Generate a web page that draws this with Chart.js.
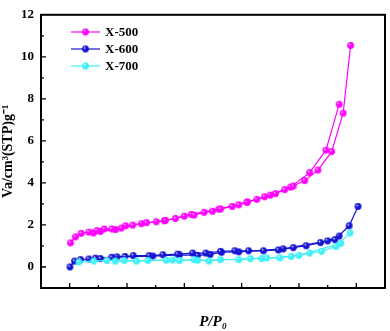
<!DOCTYPE html>
<html>
<head>
<meta charset="utf-8">
<script src="https://cdn.jsdelivr.net/npm/chart.js@4/dist/chart.umd.min.js"></script>
<style>
html,body{margin:0;padding:0;background:#fff;}
#wrap{width:390px;height:331px;position:relative;}
</style>
</head>
<body>
<div id="wrap"><canvas id="c" width="390" height="331"></canvas></div>
<script>
// ---- data (P/P0, Va) ----
const seriesLabels = ['X-500', 'X-600', 'X-700'];
const seriesColors = ['#ff00ff', '#1414d2', '#3ff0f8'];

const x500Ads = [[0.003,1.15],[0.02,1.43],[0.04,1.6],[0.067,1.66],[0.095,1.73],[0.12,1.81],[0.147,1.81],[0.18,1.85],[0.22,1.99],[0.268,2.11],[0.302,2.15],[0.334,2.22],[0.369,2.31],[0.4,2.42],[0.434,2.47],[0.469,2.6],[0.498,2.65],[0.527,2.76],[0.567,2.88],[0.59,2.96],[0.618,3.07],[0.653,3.22],[0.68,3.34],[0.718,3.49],[0.75,3.68],[0.78,3.85],[0.82,4.11],[0.866,4.61],[0.914,5.49],[0.954,7.32],[0.98,10.54]];
const x500Des = [[0.94,7.74],[0.894,5.56],[0.837,4.49],[0.77,3.8],[0.7,3.42],[0.62,3.1],[0.52,2.75],[0.425,2.5],[0.33,2.2],[0.25,2.06],[0.195,1.96],[0.16,1.78],[0.107,1.69],[0.083,1.62]];

const x600Ads = [[0.001,0.0],[0.017,0.28],[0.038,0.35],[0.067,0.38],[0.107,0.4],[0.147,0.46],[0.193,0.5],[0.222,0.54],[0.277,0.54],[0.325,0.58],[0.377,0.61],[0.429,0.66],[0.475,0.66],[0.526,0.74],[0.576,0.77],[0.624,0.77],[0.676,0.77],[0.728,0.81],[0.78,0.92],[0.825,1.01],[0.875,1.16],[0.925,1.3],[0.975,1.96],[1.006,2.88]];
const x600Des = [[0.94,1.47],[0.9,1.24],[0.745,0.86],[0.59,0.72],[0.53,0.7],[0.49,0.6],[0.446,0.55],[0.383,0.58],[0.29,0.52],[0.165,0.48],[0.09,0.42]];

const x700Ads = [[0.032,0.24],[0.084,0.28],[0.13,0.31],[0.19,0.31],[0.233,0.28],[0.273,0.31],[0.337,0.32],[0.383,0.31],[0.434,0.35],[0.486,0.28],[0.526,0.35],[0.59,0.35],[0.63,0.4],[0.687,0.43],[0.733,0.43],[0.773,0.5],[0.837,0.66],[0.879,0.74],[0.929,0.97],[0.978,1.62]];
const x700Des = [[0.946,1.12],[0.8,0.55],[0.67,0.4],[0.446,0.32],[0.359,0.33],[0.159,0.28]];

const xTickLabels = ['0.0','0.2','0.4','0.6','0.8','1.0'];
const yTickLabels = ['0','2','4','6','8','10','12'];

// ---- styles ----
function sphere(color, r) {
  const s = Math.ceil(r*2)+2;
  const cv = document.createElement('canvas');
  cv.width = s; cv.height = s;
  const g = cv.getContext('2d');
  const c = s/2;
  const grad = g.createRadialGradient(c-r*0.35, c-r*0.4, 0.2, c, c, r);
  grad.addColorStop(0, '#ffffff');
  grad.addColorStop(0.35, color);
  grad.addColorStop(1, color);
  g.fillStyle = grad;
  g.beginPath(); g.arc(c, c, r, 0, Math.PI*2); g.fill();
  return cv;
}
const toXY = arr => arr.map(p => ({x:p[0], y:p[1]}));
const allSeries = [[x500Ads,x500Des],[x600Ads,x600Des],[x700Ads,x700Des]];
const sprites = seriesColors.map(c => sphere(c, 3.4));

const datasets = [];
// draw order: X-700 first so blue/magenta sit on top
[2,1,0].forEach(i => {
  allSeries[i].forEach((arr, k) => {
    datasets.push({
      label: seriesLabels[i] + (k ? ' des' : ''),
      data: toXY(arr),
      showLine: true,
      borderColor: seriesColors[i],
      backgroundColor: seriesColors[i],
      borderWidth: 1.2,
      pointStyle: sprites[i],
      pointRadius: 3.4,
      pointHoverRadius: 3.4,
      tension: 0
    });
  });
});

const font = 'bold 13px "Liberation Serif", "Times New Roman", serif';

const framePlugin = {
  id: 'frame',
  afterDraw(chart) {
    const {ctx, chartArea: a, scales: {x, y}} = chart;
    ctx.save();
    ctx.strokeStyle = '#000';
    ctx.lineWidth = 2;
    ctx.strokeRect(a.left, a.top, a.right - a.left, a.bottom - a.top);
    ctx.lineWidth = 1.3;
    ctx.beginPath();
    for (let v = -0.1; v <= 1.1001; v += 0.1) {
      const r = Math.round(v*10);
      const len = (r % 2 === 0) ? 5 : 3;
      const px = x.getPixelForValue(r/10);
      if (px <= a.left + 1 || px >= a.right - 1) continue;
      ctx.moveTo(px, a.bottom); ctx.lineTo(px, a.bottom - len);
    }
    for (let v = -1; v <= 12; v++) {
      const len = (v % 2 === 0) ? 5 : 3;
      const py = y.getPixelForValue(v);
      if (py <= a.top + 1 || py >= a.bottom - 1) continue;
      ctx.moveTo(a.left, py); ctx.lineTo(a.left + len, py);
    }
    ctx.stroke();
    // legend
    ctx.font = font;
    ctx.textBaseline = 'middle';
    ctx.textAlign = 'left';
    const lx0 = 71, lx1 = 100, ly0 = 32, dy = 17;
    seriesLabels.forEach((lab, i) => {
      const ly = ly0 + i*dy;
      ctx.strokeStyle = seriesColors[i];
      ctx.lineWidth = 1.2;
      ctx.beginPath(); ctx.moveTo(lx0, ly); ctx.lineTo(lx1, ly); ctx.stroke();
      const s = sprites[i];
      ctx.drawImage(s, (lx0+lx1)/2 - s.width/2, ly - s.height/2);
      ctx.fillStyle = '#000';
      ctx.fillText(lab, 105, ly + 1);
    });
    ctx.restore();
  }
};

new Chart(document.getElementById('c'), {
  type: 'scatter',
  data: { datasets },
  options: {
    responsive: false,
    animation: false,
    devicePixelRatio: 1,
    layout: { padding: { top: 5, right: 3, left: 0, bottom: 0 } },
    plugins: { legend: { display: false }, tooltip: { enabled: false } },
    scales: {
      x: {
        type: 'linear', min: -0.1, max: 1.1,
        afterFit(s) { s.height = 43; },
        grid: { display: false, drawTicks: false },
        border: { display: false },
        ticks: {
          stepSize: 0.2, padding: 5, color: '#000',
          font: { family: '"Liberation Serif", "Times New Roman", serif', size: 13, weight: 'bold' },
          callback(v) {
            const i = Math.round(v*5);
            if (Math.abs(v*5 - i) > 1e-6 || i < 0 || i >= xTickLabels.length) return '';
            return xTickLabels[i];
          }
        },
        title: {
          display: true, text: 'P/P\u2080', color: '#000', padding: { top: 2, bottom: 0 },
          font: { family: '"Liberation Serif", "Times New Roman", serif', size: 15, weight: 'bold', style: 'italic' }
        }
      },
      y: {
        type: 'linear', min: -1, max: 12,
        afterFit(s) { s.width = 41; },
        grid: { display: false, drawTicks: false },
        border: { display: false },
        ticks: {
          stepSize: 1, padding: 7, color: '#000',
          font: { family: '"Liberation Serif", "Times New Roman", serif', size: 13, weight: 'bold' },
          callback(v) {
            if (v < 0 || v % 2 !== 0) return '';
            return yTickLabels[v/2];
          }
        },
        title: {
          display: true, text: 'Va/cm\u00b3(STP)g\u207b\u00b9', color: '#000', padding: { top: 0, bottom: 2 },
          font: { family: '"Liberation Serif", "Times New Roman", serif', size: 14, weight: 'bold' }
        }
      }
    }
  },
  plugins: [framePlugin]
});
</script>
</body>
</html>
